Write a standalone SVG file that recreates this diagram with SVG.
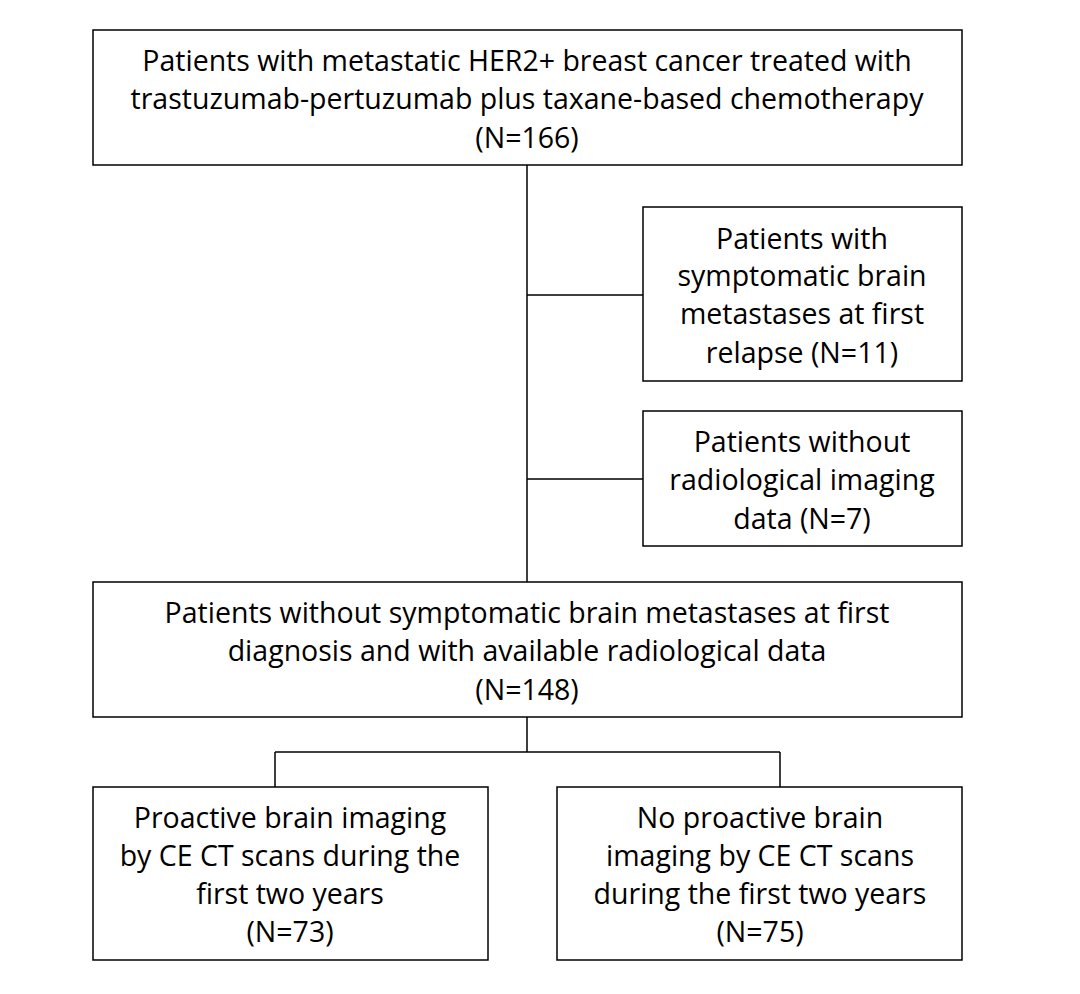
<svg xmlns="http://www.w3.org/2000/svg" width="1080" height="994" viewBox="0 0 1080 994">
<style>
.b{fill:#fff;stroke:#000;stroke-width:1.5}
.l{fill:none;stroke:#000;stroke-width:1.5}
text{font-family:"Open Sans","Liberation Sans",sans-serif;font-size:28.5px;fill:#000;text-anchor:middle;dominant-baseline:central}
</style>
<rect width="1080" height="994" fill="#fff"/>
<g id="connectors">
<path class="l" d="M527 165V582M527 295H643M527 479H643M527 717V752M275 752H780M275 752V787M780 752V787"/>
</g>
<g id="n1"><rect class="b" x="93" y="30" width="869" height="135"/>
<text x="527" y="60">Patients with metastatic HER2+ breast cancer treated with</text>
<text x="527" y="98">trastuzumab-pertuzumab plus taxane-based chemotherapy</text>
<text x="527" y="137">(N=166)</text></g>
<g id="n2"><rect class="b" x="643" y="207" width="319" height="174"/>
<text x="802" y="238">Patients with</text>
<text x="802" y="275">symptomatic brain</text>
<text x="802" y="313">metastases at first</text>
<text x="802" y="352">relapse (N=11)</text></g>
<g id="n3"><rect class="b" x="643" y="411" width="319" height="135"/>
<text x="802" y="441">Patients without</text>
<text x="802" y="479">radiological imaging</text>
<text x="802" y="518">data (N=7)</text></g>
<g id="n4"><rect class="b" x="93" y="582" width="869" height="135"/>
<text x="527" y="612">Patients without symptomatic brain metastases at first</text>
<text x="527" y="650">diagnosis and with available radiological data</text>
<text x="527" y="689">(N=148)</text></g>
<g id="n5"><rect class="b" x="93" y="787" width="395" height="173"/>
<text x="290" y="817">Proactive brain imaging</text>
<text x="290" y="855">by CE CT scans during the</text>
<text x="290" y="893">first two years</text>
<text x="290" y="931">(N=73)</text></g>
<g id="n6"><rect class="b" x="557" y="787" width="405" height="173"/>
<text x="760" y="817">No proactive brain</text>
<text x="760" y="855">imaging by CE CT scans</text>
<text x="760" y="893">during the first two years</text>
<text x="760" y="931">(N=75)</text></g>
</svg>
